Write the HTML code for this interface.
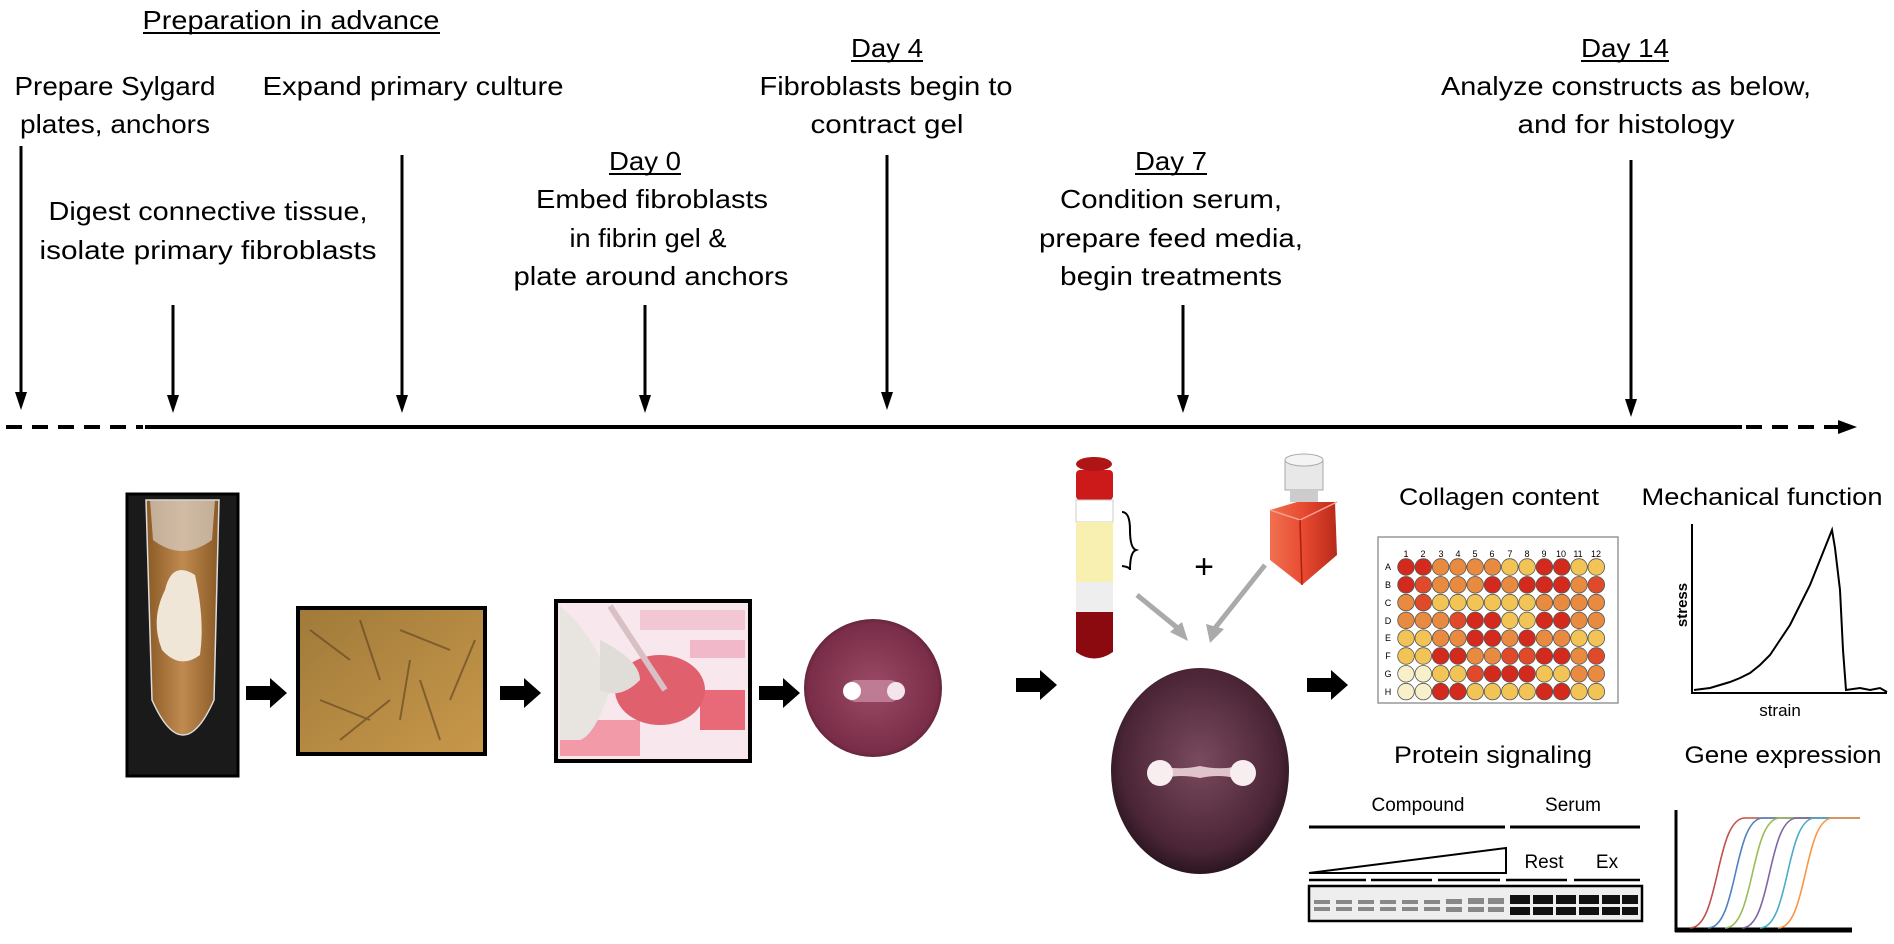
<!DOCTYPE html>
<html><head><meta charset="utf-8"><style>
html,body{margin:0;padding:0;background:#fff}
svg{display:block}
text{font-family:"Liberation Sans",sans-serif;fill:#000}
</style></head><body>
<svg width="1894" height="944" viewBox="0 0 1894 944" xmlns="http://www.w3.org/2000/svg">
<defs>
<marker id="ah" markerWidth="10" markerHeight="14" refX="5" refY="13" orient="auto" markerUnits="userSpaceOnUse"><path d="M0,0 L10,0 L5,14 Z" fill="#000" transform="rotate(0)"/></marker>
<radialGradient id="dish" cx="50%" cy="45%" r="55%"><stop offset="0" stop-color="#7a4a5e"/><stop offset="0.8" stop-color="#4a2535"/><stop offset="1" stop-color="#2a1520"/></radialGradient>
<radialGradient id="dish1" cx="50%" cy="50%" r="55%"><stop offset="0" stop-color="#9a4a65"/><stop offset="0.85" stop-color="#7a2d48"/><stop offset="1" stop-color="#4a1a2a"/></radialGradient>
<linearGradient id="tube" x1="0" x2="1"><stop offset="0" stop-color="#8a5a25"/><stop offset="0.5" stop-color="#c08a50"/><stop offset="1" stop-color="#8a5a25"/></linearGradient>
<linearGradient id="cells" x1="0" y1="0" x2="1" y2="1"><stop offset="0" stop-color="#a07a3a"/><stop offset="1" stop-color="#c8984a"/></linearGradient>
<linearGradient id="bottle" x1="0" x2="1"><stop offset="0" stop-color="#f07050"/><stop offset="0.5" stop-color="#e84a30"/><stop offset="1" stop-color="#b82a1a"/></linearGradient>
</defs>

<!-- Header texts -->
<g font-size="26" text-anchor="middle">
<text x="291" y="29" textLength="297" lengthAdjust="spacingAndGlyphs">Preparation in advance</text>
<line x1="143" y1="33" x2="440" y2="33" stroke="#000" stroke-width="2"/>
<text x="115" y="95" textLength="201" lengthAdjust="spacingAndGlyphs">Prepare Sylgard</text>
<text x="115" y="133" textLength="190" lengthAdjust="spacingAndGlyphs">plates, anchors</text>
<text x="413" y="95" textLength="301" lengthAdjust="spacingAndGlyphs">Expand primary culture</text>
<text x="208" y="220" textLength="319" lengthAdjust="spacingAndGlyphs">Digest connective tissue,</text>
<text x="208" y="259" textLength="337" lengthAdjust="spacingAndGlyphs">isolate primary fibroblasts</text>
<text x="645" y="170" textLength="72" lengthAdjust="spacingAndGlyphs">Day 0</text>
<line x1="609" y1="174" x2="681" y2="174" stroke="#000" stroke-width="2"/>
<text x="652" y="208" textLength="232" lengthAdjust="spacingAndGlyphs">Embed fibroblasts</text>
<text x="648" y="247" textLength="157" lengthAdjust="spacingAndGlyphs">in fibrin gel &amp;</text>
<text x="651" y="285" textLength="275" lengthAdjust="spacingAndGlyphs">plate around anchors</text>
<text x="887" y="57" textLength="72" lengthAdjust="spacingAndGlyphs">Day 4</text>
<line x1="851" y1="61" x2="923" y2="61" stroke="#000" stroke-width="2"/>
<text x="886" y="95" textLength="253" lengthAdjust="spacingAndGlyphs">Fibroblasts begin to</text>
<text x="887" y="133" textLength="153" lengthAdjust="spacingAndGlyphs">contract gel</text>
<text x="1171" y="170" textLength="72" lengthAdjust="spacingAndGlyphs">Day 7</text>
<line x1="1135" y1="174" x2="1207" y2="174" stroke="#000" stroke-width="2"/>
<text x="1171" y="208" textLength="222" lengthAdjust="spacingAndGlyphs">Condition serum,</text>
<text x="1171" y="247" textLength="264" lengthAdjust="spacingAndGlyphs">prepare feed media,</text>
<text x="1171" y="285" textLength="222" lengthAdjust="spacingAndGlyphs">begin treatments</text>
<text x="1625" y="57" textLength="88" lengthAdjust="spacingAndGlyphs">Day 14</text>
<line x1="1581" y1="61" x2="1669" y2="61" stroke="#000" stroke-width="2"/>
<text x="1626" y="95" textLength="370" lengthAdjust="spacingAndGlyphs">Analyze constructs as below,</text>
<text x="1626" y="133" textLength="217" lengthAdjust="spacingAndGlyphs">and for histology</text>
</g>

<!-- Down arrows -->
<g stroke="#000" stroke-width="3">
<line x1="21" y1="146" x2="21" y2="395"/>
<line x1="173" y1="305" x2="173" y2="398"/>
<line x1="402" y1="155" x2="402" y2="398"/>
<line x1="645" y1="305" x2="645" y2="398"/>
<line x1="887" y1="155" x2="887" y2="395"/>
<line x1="1183" y1="305" x2="1183" y2="398"/>
<line x1="1631" y1="160" x2="1631" y2="402"/>
</g>
<g fill="#000">
<path d="M15,392 L27,392 L21,410 Z"/>
<path d="M167,395 L179,395 L173,413 Z"/>
<path d="M396,395 L408,395 L402,413 Z"/>
<path d="M639,395 L651,395 L645,413 Z"/>
<path d="M881,392 L893,392 L887,410 Z"/>
<path d="M1177,395 L1189,395 L1183,413 Z"/>
<path d="M1625,399 L1637,399 L1631,417 Z"/>
</g>

<!-- Timeline -->
<line x1="6" y1="427" x2="143" y2="427" stroke="#000" stroke-width="4" stroke-dasharray="16,10"/>
<line x1="145" y1="427" x2="1742" y2="427" stroke="#000" stroke-width="4"/>
<line x1="1746" y1="427" x2="1840" y2="427" stroke="#000" stroke-width="4" stroke-dasharray="16,10"/>
<path d="M1838,420 L1857,427 L1838,434 Z" fill="#000"/>

<!-- Tube image -->
<rect x="127" y="494" width="111" height="282" fill="#1a1a1a" stroke="#000" stroke-width="3"/>
<path d="M146,500 L219,500 L214,700 Q183,770 152,700 Z" fill="url(#tube)" stroke="#ddd" stroke-width="1.5"/>
<path d="M150,500 L215,500 L212,540 Q182,562 153,540 Z" fill="#d8d0c8" opacity="0.7"/>
<path d="M165,590 Q172,560 195,575 Q205,620 200,655 Q180,670 162,650 Q150,620 165,590 Z" fill="#efe6d8"/>

<!-- Cells image -->
<rect x="298" y="608" width="187" height="146" fill="url(#cells)" stroke="#000" stroke-width="4"/>
<g stroke="#5a4020" stroke-width="2" opacity="0.6">
<line x1="310" y1="630" x2="350" y2="660"/><line x1="360" y1="620" x2="380" y2="680"/><line x1="400" y1="630" x2="450" y2="650"/>
<line x1="320" y1="700" x2="370" y2="720"/><line x1="420" y1="680" x2="440" y2="740"/><line x1="450" y1="700" x2="475" y2="640"/>
<line x1="340" y1="740" x2="390" y2="700"/><line x1="400" y1="720" x2="410" y2="660"/>
</g>

<!-- Pipette image -->
<rect x="556" y="601" width="194" height="160" fill="#f8e8ee" stroke="#000" stroke-width="4"/>
<rect x="640" y="610" width="105" height="20" fill="#f3c6d4"/>
<rect x="690" y="640" width="55" height="18" fill="#f0b8c8"/>
<rect x="700" y="690" width="45" height="40" fill="#e86a78"/>
<rect x="560" y="720" width="80" height="36" fill="#f29aa8"/>
<ellipse cx="660" cy="690" rx="45" ry="35" fill="#e0606e"/>
<path d="M560,606 Q600,640 610,690 Q595,735 580,740 L560,740 Z" fill="#e8e4e0"/>
<path d="M600,640 Q640,660 640,680 Q620,700 600,690 Z" fill="#e0dcd8"/>
<line x1="610" y1="606" x2="665" y2="690" stroke="#d8c0c4" stroke-width="6"/>

<!-- Dish 1 -->
<circle cx="873" cy="688" r="69" fill="url(#dish1)"/>
<rect x="845" y="680" width="56" height="22" rx="11" fill="#c888a0" opacity="0.8"/>
<circle cx="852" cy="691" r="9" fill="#fff"/>
<circle cx="896" cy="691" r="9" fill="#f4e4ec"/>

<!-- Black fat arrows -->
<g fill="#000">
<path d="M246,686 L270,686 L270,678 L287,693 L270,708 L270,700 L246,700 Z"/>
<path d="M500,686 L524,686 L524,678 L541,693 L524,708 L524,700 L500,700 Z"/>
<path d="M759,686 L783,686 L783,678 L800,693 L783,708 L783,700 L759,700 Z"/>
<path d="M1016,678 L1040,678 L1040,670 L1057,685 L1040,700 L1040,692 L1016,692 Z"/>
<path d="M1307,678 L1331,678 L1331,670 L1348,685 L1331,700 L1331,692 L1307,692 Z"/>
</g>

<!-- Blood tube -->
<rect x="1076" y="470" width="37" height="30" rx="4" fill="#cc1a1a"/>
<ellipse cx="1094" cy="464" rx="18" ry="7" fill="#b01515"/>
<rect x="1076" y="500" width="37" height="22" fill="#fff" stroke="#ccc"/>
<rect x="1076" y="522" width="37" height="60" fill="#f8f0b0"/>
<rect x="1076" y="582" width="37" height="30" fill="#eee"/>
<path d="M1076,612 L1113,612 L1113,652 Q1094,665 1076,652 Z" fill="#8a0a10"/>
<path d="M1122,512 Q1130,512 1130,530 Q1130,548 1136,550 Q1130,552 1130,570 Q1130,567 1122,566" fill="none" stroke="#000" stroke-width="2"/>
<text x="1204" y="578" font-size="34" text-anchor="middle">+</text>
<!-- Bottle -->
<rect x="1285" y="460" width="38" height="30" fill="#e8e8e8" stroke="#aaa"/>
<ellipse cx="1304" cy="460" rx="19" ry="6" fill="#f4f4f4" stroke="#aaa"/>
<rect x="1290" y="490" width="28" height="12" fill="#ccc"/>
<path d="M1270,510 L1297,502 L1335,502 L1337,555 L1302,585 L1270,560 Z" fill="url(#bottle)"/>
<path d="M1270,510 L1300,520 L1337,502" fill="none" stroke="#f8a090" stroke-width="1.5"/>
<line x1="1300" y1="520" x2="1302" y2="585" stroke="#a82010" stroke-width="1.5"/>
<!-- Gray arrows -->
<g stroke="#aaa" stroke-width="5">
<line x1="1137" y1="595" x2="1180" y2="630"/>
<line x1="1265" y1="565" x2="1215" y2="628"/>
</g>
<path d="M1170,632 L1188,641 L1182,622 Z" fill="#aaa"/>
<path d="M1206,624 L1210,643 L1224,629 Z" fill="#aaa"/>

<!-- Dish 2 -->
<ellipse cx="1200" cy="771" rx="89" ry="103" fill="url(#dish)"/>
<path d="M1152,762 Q1170,772 1200,766 Q1228,772 1250,762 L1250,784 Q1228,772 1200,778 Q1170,772 1152,784 Z" fill="#e0c4cc"/>
<circle cx="1160" cy="773" r="13" fill="#f8eef0"/>
<circle cx="1243" cy="773" r="13" fill="#f8eef0"/>

<!-- Right titles -->
<g font-size="24" text-anchor="middle">
<text x="1499" y="505" textLength="200" lengthAdjust="spacingAndGlyphs">Collagen content</text>
<text x="1762" y="505" textLength="241" lengthAdjust="spacingAndGlyphs">Mechanical function</text>
<text x="1493" y="763" textLength="198" lengthAdjust="spacingAndGlyphs">Protein signaling</text>
<text x="1783" y="763" textLength="197" lengthAdjust="spacingAndGlyphs">Gene expression</text>
</g>

<!-- Plate -->
<rect x="1378" y="537" width="240" height="166" fill="#fff" stroke="#999" stroke-width="1.5"/>
<g font-size="9" text-anchor="middle" fill="#333">
<text x="1406" y="557">1</text><text x="1423" y="557">2</text><text x="1441" y="557">3</text><text x="1458" y="557">4</text><text x="1475" y="557">5</text><text x="1492" y="557">6</text><text x="1510" y="557">7</text><text x="1527" y="557">8</text><text x="1544" y="557">9</text><text x="1561" y="557">10</text><text x="1578" y="557">11</text><text x="1596" y="557">12</text>
<text x="1388" y="570">A</text><text x="1388" y="588">B</text><text x="1388" y="606">C</text><text x="1388" y="624">D</text><text x="1388" y="641">E</text><text x="1388" y="659">F</text><text x="1388" y="677">G</text><text x="1388" y="695">H</text>
</g>
<g stroke="#555" stroke-width="0.8" id="wells"></g>

<!-- Stress-strain -->
<line x1="1692" y1="524" x2="1692" y2="694" stroke="#000" stroke-width="2"/>
<line x1="1692" y1="693" x2="1887" y2="693" stroke="#000" stroke-width="2"/>
<text x="1687" y="605" font-size="15" font-weight="bold" text-anchor="middle" transform="rotate(-90 1687 605)" fill="#333">stress</text>
<text x="1780" y="716" font-size="17" text-anchor="middle">strain</text>
<path d="M1694,690 L1710,688 L1720,685 L1730,682 L1740,678 L1750,673 L1760,665 L1770,655 L1780,640 L1790,625 L1800,605 L1810,585 L1818,565 L1826,545 L1832,530 L1835,548 L1840,590 L1843,650 L1846,690 L1860,688 L1870,690 L1880,688 L1887,692" fill="none" stroke="#000" stroke-width="2"/>

<!-- Blot -->
<g font-size="19" text-anchor="middle">
<text x="1418" y="811">Compound</text>
<text x="1573" y="811">Serum</text>
<text x="1544" y="868">Rest</text>
<text x="1607" y="868">Ex</text>
</g>
<line x1="1309" y1="827" x2="1505" y2="827" stroke="#000" stroke-width="3"/>
<line x1="1510" y1="827" x2="1640" y2="827" stroke="#000" stroke-width="3"/>
<path d="M1309,873 L1506,848 L1506,873 Z" fill="none" stroke="#000" stroke-width="2"/>
<g stroke="#000" stroke-width="2.5">
<line x1="1309" y1="880" x2="1366" y2="880"/><line x1="1371" y1="880" x2="1432" y2="880"/><line x1="1438" y1="880" x2="1500" y2="880"/>
<line x1="1506" y1="880" x2="1567" y2="880"/><line x1="1574" y1="880" x2="1640" y2="880"/>
</g>
<rect x="1309" y="886" width="333" height="35" fill="#eee" stroke="#000" stroke-width="2.5"/>
<g fill="#888">
<rect x="1314" y="900" width="16" height="4"/><rect x="1314" y="907" width="16" height="4"/>
<rect x="1336" y="900" width="16" height="4"/><rect x="1336" y="907" width="16" height="4"/>
<rect x="1358" y="900" width="16" height="4"/><rect x="1358" y="907" width="16" height="4"/>
<rect x="1380" y="900" width="16" height="4"/><rect x="1380" y="907" width="16" height="4"/>
<rect x="1402" y="900" width="16" height="4"/><rect x="1402" y="907" width="16" height="4"/>
<rect x="1424" y="900" width="16" height="4"/><rect x="1424" y="907" width="16" height="4"/>
<rect x="1446" y="899" width="16" height="5"/><rect x="1446" y="907" width="16" height="5"/>
<rect x="1468" y="898" width="16" height="6"/><rect x="1468" y="907" width="16" height="5"/>
<rect x="1488" y="898" width="16" height="6"/><rect x="1488" y="907" width="16" height="5"/>
</g>
<g fill="#111">
<rect x="1510" y="895" width="20" height="9"/><rect x="1510" y="907" width="20" height="8"/>
<rect x="1533" y="895" width="20" height="9"/><rect x="1533" y="907" width="20" height="8"/>
<rect x="1556" y="895" width="20" height="9"/><rect x="1556" y="907" width="20" height="8"/>
<rect x="1579" y="895" width="20" height="9"/><rect x="1579" y="907" width="20" height="8"/>
<rect x="1602" y="895" width="18" height="9"/><rect x="1602" y="907" width="18" height="8"/>
<rect x="1622" y="895" width="16" height="9"/><rect x="1622" y="907" width="16" height="8"/>
</g>

<!-- Gene expression -->
<line x1="1676" y1="810" x2="1676" y2="932" stroke="#000" stroke-width="3"/>
<line x1="1675" y1="930" x2="1852" y2="930" stroke="#000" stroke-width="5"/>
<g fill="none" stroke-width="1.6">
<path d="M1690,928 C1720,928 1715,818 1745,818 L1860,818" stroke="#c0504d"/>
<path d="M1708,928 C1738,928 1733,818 1763,818 L1860,818" stroke="#4f81bd"/>
<path d="M1725,928 C1755,928 1750,818 1780,818 L1860,818" stroke="#9bbb59"/>
<path d="M1742,928 C1772,928 1767,818 1797,818 L1860,818" stroke="#8064a2"/>
<path d="M1760,928 C1790,928 1785,818 1815,818 L1860,818" stroke="#4bacc6"/>
<path d="M1778,928 C1808,928 1803,818 1833,818 L1860,818" stroke="#f79646"/>
</g>
</svg>
<script>
(function(){
var rows=["RRooooyyRRyy","ROoooRoRRRoO","oOyyyyyyoooo","oooORRyyRRoo","yyooRRoRooyy","yyRRooOORRoO","LLyyORRRyyoo","LLRRyyyyRRyy"];
var col={R:"#d42a1e",O:"#e04a2a",o:"#e88a40",y:"#f2c455",L:"#f8f0c8"};
var g=document.getElementById("wells"),ns="http://www.w3.org/2000/svg";
for(var r=0;r<8;r++)for(var c=0;c<12;c++){var e=document.createElementNS(ns,"circle");
e.setAttribute("cx",1406+c*17.3);e.setAttribute("cy",567+r*17.8);e.setAttribute("r",8.3);
e.setAttribute("fill",col[rows[r][c]]);g.appendChild(e);}
})();
</script>
</body></html>
